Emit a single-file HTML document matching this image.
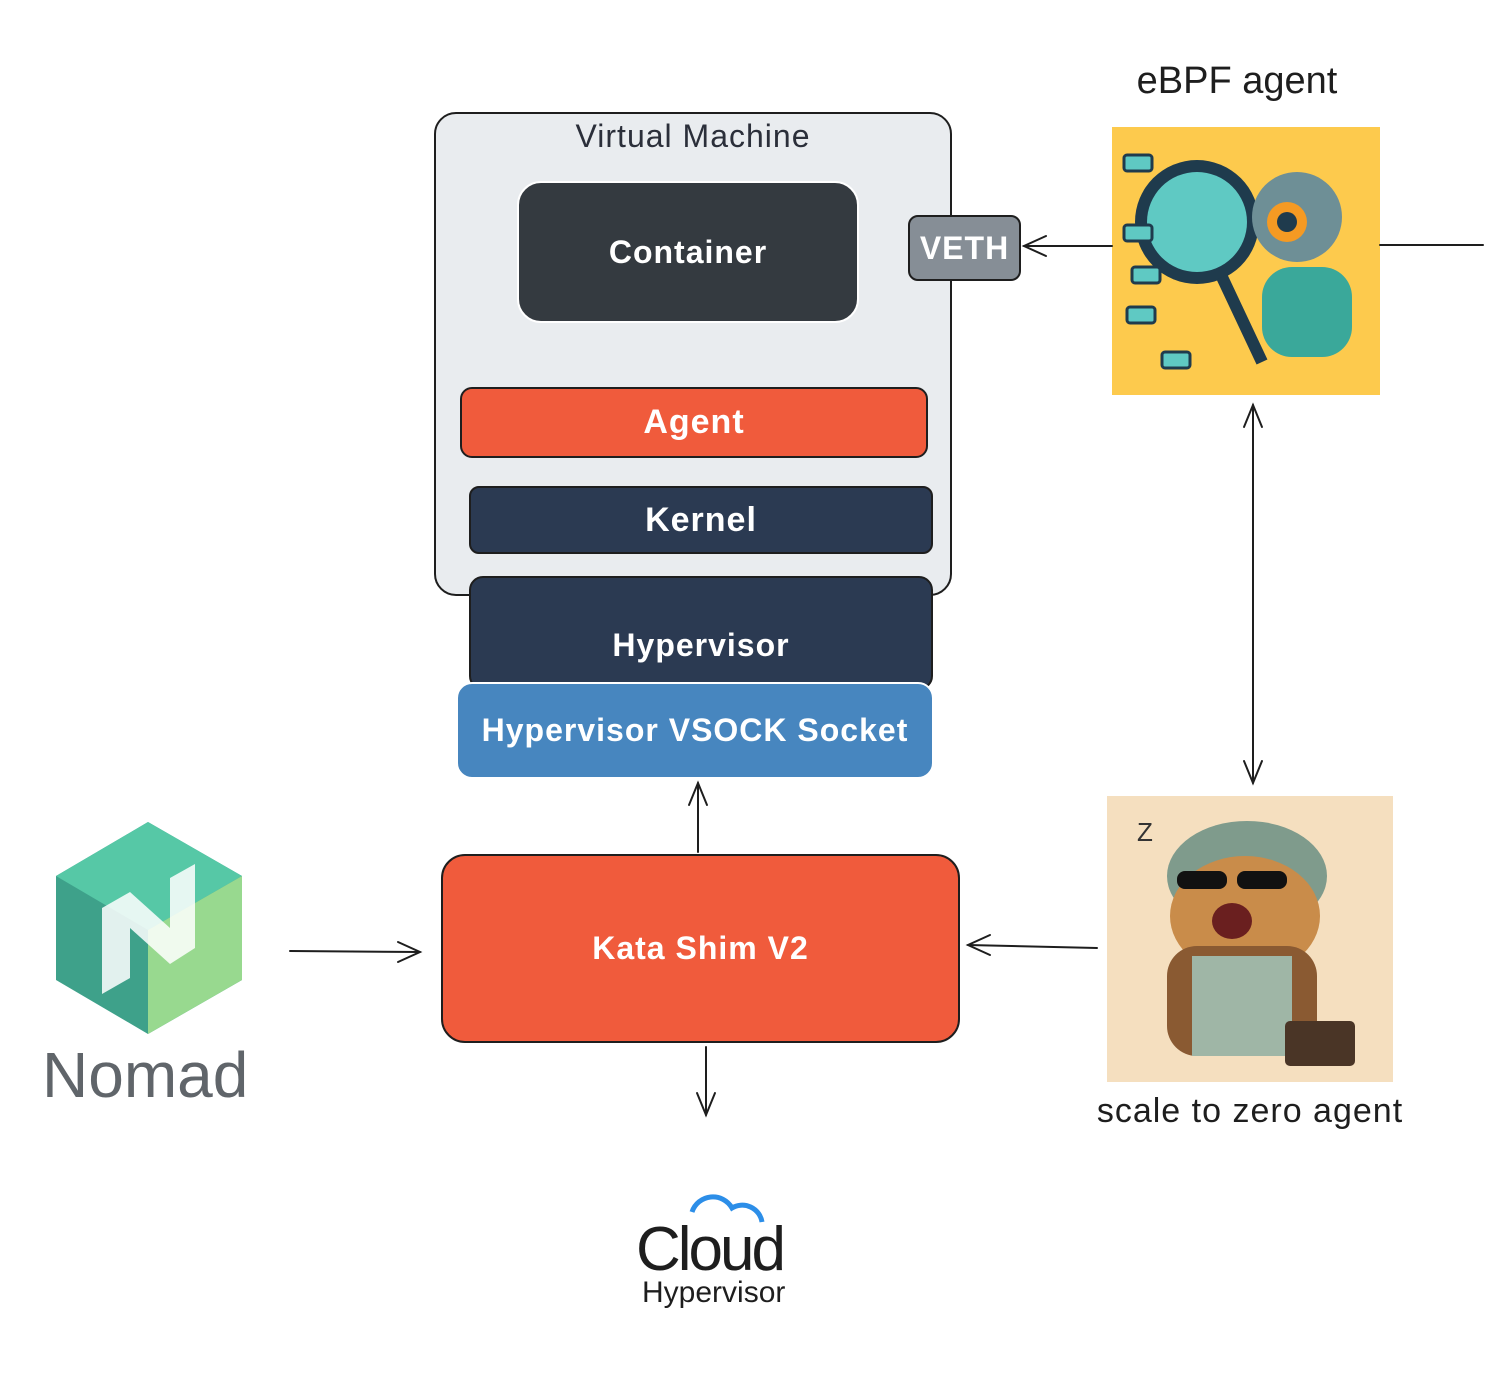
<!DOCTYPE html>
<html><head><meta charset="utf-8"><style>
body{margin:0;width:1492px;height:1385px;background:#fff;position:relative;overflow:hidden;font-family:"Liberation Sans",sans-serif}
.b{position:absolute;box-sizing:border-box;border:2px solid #1e1e1e;display:flex;align-items:center;justify-content:center;color:#fff;font-weight:bold;letter-spacing:1px}
.t{position:absolute;color:#1e1e1e}
</style></head><body>
<div class="b" style="left:434px;top:112px;width:518px;height:484px;background:#e9ecef;border-radius:22px;align-items:flex-start"></div>
<div class="t" style="left:434px;top:118px;width:518px;text-align:center;font-size:32px;color:#2b2f3a;letter-spacing:1px">Virtual Machine</div>
<div class="b" style="left:517px;top:181px;width:342px;height:142px;background:#343a40;border-radius:24px;border-color:#fff;font-size:32px">Container</div>
<div class="b" style="left:908px;top:215px;width:113px;height:66px;background:#868e96;border-radius:10px;font-size:32px">VETH</div>
<div class="b" style="left:460px;top:387px;width:468px;height:71px;background:#f05b3c;border-radius:12px;font-size:34px">Agent</div>
<div class="b" style="left:469px;top:486px;width:464px;height:68px;background:#2b3a52;border-radius:10px;font-size:34px">Kernel</div>
<div class="b" style="left:469px;top:576px;width:464px;height:114px;background:#2b3a52;border-radius:14px;font-size:32px;padding-top:24px">Hypervisor</div>
<div class="b" style="left:456px;top:682px;width:478px;height:97px;background:#4786bf;border-radius:16px;border-color:#fff;font-size:32px">Hypervisor VSOCK Socket</div>
<div class="b" style="left:441px;top:854px;width:519px;height:189px;background:#f05b3c;border-radius:24px;font-size:32px">Kata Shim V2</div>

<div class="t" style="left:1112px;top:60px;width:250px;text-align:center;font-size:38px">eBPF agent</div>
<svg style="position:absolute;left:1112px;top:127px" width="268" height="268">
<rect width="268" height="268" fill="#fdca4d"/>
<circle cx="85" cy="95" r="62" fill="#1f3b4d"/><circle cx="85" cy="95" r="50" fill="#5fc9c3"/>
<line x1="110" y1="150" x2="150" y2="235" stroke="#1f3b4d" stroke-width="12"/>
<circle cx="185" cy="90" r="45" fill="#6e8f96"/><circle cx="175" cy="95" r="20" fill="#f59a23"/><circle cx="175" cy="95" r="10" fill="#1f3b4d"/>
<rect x="150" y="140" width="90" height="90" rx="30" fill="#3aa89a"/>
<rect x="12" y="28" width="28" height="16" rx="3" fill="#5fc9c3" stroke="#1f3b4d" stroke-width="3"/>
<rect x="12" y="98" width="28" height="16" rx="3" fill="#5fc9c3" stroke="#1f3b4d" stroke-width="3"/>
<rect x="20" y="140" width="28" height="16" rx="3" fill="#5fc9c3" stroke="#1f3b4d" stroke-width="3"/>
<rect x="15" y="180" width="28" height="16" rx="3" fill="#5fc9c3" stroke="#1f3b4d" stroke-width="3"/>
<rect x="50" y="225" width="28" height="16" rx="3" fill="#5fc9c3" stroke="#1f3b4d" stroke-width="3"/>
</svg>
<svg style="position:absolute;left:1107px;top:796px" width="286" height="286">
<rect width="286" height="286" fill="#f5dfbf"/>
<ellipse cx="140" cy="80" rx="80" ry="55" fill="#7f9b8c"/>
<ellipse cx="138" cy="120" rx="75" ry="60" fill="#c98c4a"/>
<rect x="60" y="150" width="150" height="110" rx="30" fill="#8a5a32"/>
<rect x="85" y="160" width="100" height="100" fill="#9fb6a6"/>
<rect x="178" y="225" width="70" height="45" rx="5" fill="#4a3526"/>
<rect x="70" y="75" width="50" height="18" rx="8" fill="#111"/><rect x="130" y="75" width="50" height="18" rx="8" fill="#111"/>
<ellipse cx="125" cy="125" rx="20" ry="18" fill="#6a1f1f"/>
<text x="30" y="45" font-size="26" font-family="Liberation Sans" fill="#333">Z</text>
</svg>
<div class="t" style="left:1075px;top:1092px;width:350px;text-align:center;font-size:34px;letter-spacing:1px">scale to zero agent</div>

<svg style="position:absolute;left:50px;top:818px" width="200" height="220">
<polygon points="98,4 192,58 192,162 98,216 6,162 6,58" fill="#3ea18a"/>
<polygon points="98,4 192,58 98,112 6,58" fill="#56c8a6"/>
<polygon points="192,58 192,162 98,216 98,112" fill="#98d98f"/>
<polygon points="52,90 80,74 120,110 120,60 145,46 145,130 120,146 80,110 80,160 52,176" fill="#fff" opacity="0.85"/>
</svg>
<div class="t" style="left:42px;top:1038px;font-size:64px;color:#60656a">Nomad</div>

<svg style="position:absolute;left:630px;top:1190px" width="180" height="120">
<path d="M62,22 a22,22 0 0 1 40,-4 a20,20 0 0 1 30,14" fill="none" stroke="#2c8ee8" stroke-width="5"/>
<text x="6" y="80" font-size="62" font-family="Liberation Sans" fill="#1e1e1e" letter-spacing="-3">Cloud</text>
<text x="12" y="112" font-size="30" font-family="Liberation Sans" fill="#1e1e1e">Hypervisor</text>
</svg>

<svg style="position:absolute;left:0;top:0" width="1492" height="1385" fill="none" stroke="#1e1e1e" stroke-width="2" stroke-linecap="round">
<line x1="1380" y1="245" x2="1483" y2="245"/>
<line x1="1112" y1="246" x2="1024" y2="246"/><path d="M1046,236 L1024,246 L1046,256"/>
<line x1="1253" y1="405" x2="1253" y2="783"/><path d="M1244,427 L1253,405 L1262,427"/><path d="M1244,761 L1253,783 L1262,761"/>
<line x1="1097" y1="948" x2="968" y2="945"/><path d="M990,935 L968,945 L990,955"/>
<line x1="290" y1="951" x2="420" y2="952"/><path d="M398,942 L420,952 L398,962"/>
<line x1="698" y1="852" x2="698" y2="783"/><path d="M689,805 L698,783 L707,805"/>
<line x1="706" y1="1047" x2="706" y2="1115"/><path d="M697,1093 L706,1115 L715,1093"/>
</svg>
</body></html>
